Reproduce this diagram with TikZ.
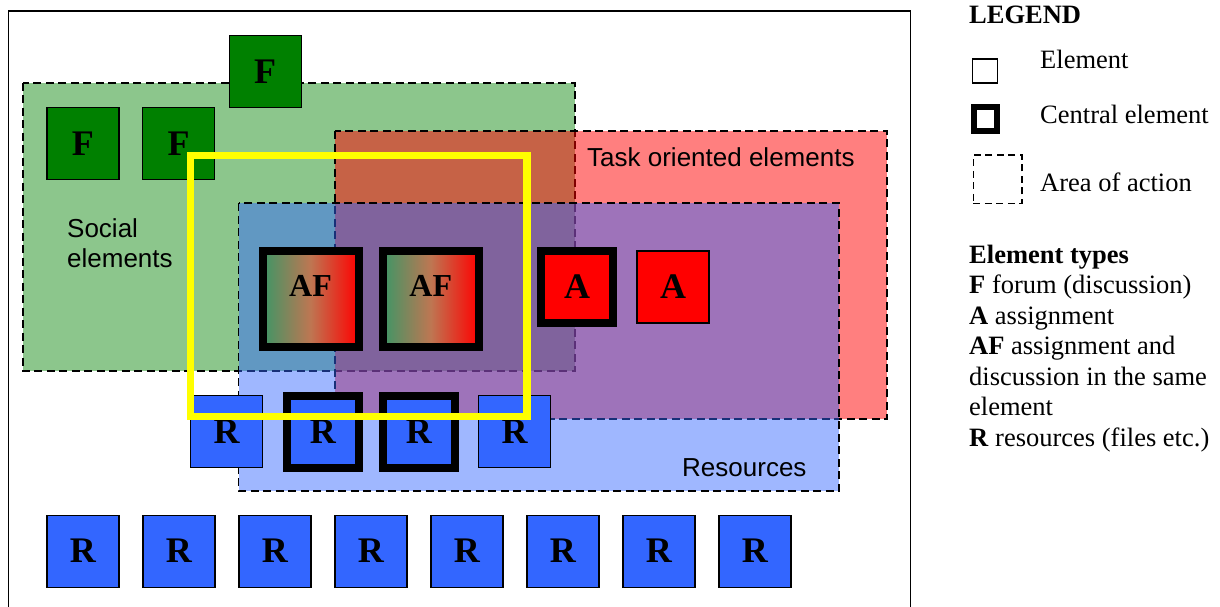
\documentclass[tikz,border=0pt]{standalone}
\usepackage{fontspec}
\setmainfont{Liberation Serif}
\newfontfamily\arialfont{Liberation Sans}
\usepackage{tikz}
\usetikzlibrary{positioning}
\definecolor{forumgreen}{RGB}{0,128,0}
\definecolor{taskred}{RGB}{255,0,0}
\definecolor{resblue}{RGB}{51,102,255}
\definecolor{mixgreen}{RGB}{62,150,102}
\definecolor{mixbrown}{RGB}{190,118,82}
\definecolor{frameyellow}{RGB}{255,255,0}
\tikzset{
  elem/.style={draw,line width=1.3pt,minimum size=72pt,inner sep=0pt,
    font=\fontsize{36}{36}\selectfont\bfseries},
  central/.style={line width=8pt},
  forum/.style={elem,fill=forumgreen},
  assign/.style={elem,fill=taskred},
  resource/.style={elem,fill=resblue},
  mixed/.style={elem,central,minimum size=96pt,left color=mixgreen,right color=taskred,
    middle color=mixbrown,text height=22pt,text depth=28pt,
    font=\fontsize{32}{32}\selectfont\bfseries},
  area/.style={draw=black,line width=1.8pt,dash pattern=on 8pt off 4.5pt},
  arealabel/.style={anchor=base west,inner sep=0pt,font=\arialfont\fontsize{26}{26}\selectfont},
  legtext/.style={anchor=base west,inner sep=0pt,font=\fontsize{26.5}{26.5}\selectfont},
}

\begin{document}
\begin{tikzpicture}[x=1pt,y=-1pt]
  \useasboundingbox (0,0) rectangle (1220,607);
  \draw[line width=1.5pt] (8.3,607) -- (8.3,11) -- (910.7,11) -- (910.7,607);
  % areas of action
  \filldraw[area,fill=forumgreen,fill opacity=0.45] (22.7,82.7) rectangle (575,371);
  \filldraw[area,fill=taskred,fill opacity=0.5] (334.8,131) rectangle (887.3,419);
  \filldraw[area,fill=resblue,fill opacity=0.47] (238.5,203.3) rectangle (839,491);
  \node[arealabel] (social1) at (67,237.5) {Social};
  \node[arealabel] (social2) at (67,267.5) {elements};
  \node[arealabel] (tasklbl) at (587,166) {Task oriented elements};
  \node[arealabel] (reslbl) at (682,476.7) {Resources};
  % elements
  \node[forum] (f0) at (265.2,71.3) {F};
  \node[forum] (f1) at (82.9,143.7) {F};
  \node[forum] (f2) at (178.7,143.7) {F};
  \node[mixed] (af1) at (310.5,299) {AF};
  \node[mixed] (af2) at (430.8,299) {AF};
  \node[assign,central] (a1) at (577,287) {A};
  \node[assign] (a2) at (673,287) {A};
  \node[resource] (r1) at (226.5,431.5) {R};
  \node[resource,central] (r2) at (322.8,431.5) {R};
  \node[resource,central] (r3) at (418.8,431.5) {R};
  \node[resource] (r4) at (514.5,431.5) {R};
  \foreach \i in {0,...,7} \node[resource] (rb\i) at (82.9+96*\i,551.2) {R};
  \draw[frameyellow,line width=7.5pt] (190.5,155.5) rectangle (527,416.7);
  % legend
  \node[legtext] (legtitle) at (969,23.3) {\textbf{LEGEND}};
  \node[draw,line width=1.5pt,minimum width=25pt,minimum height=24pt,inner sep=0pt] (legelem) at (984.8,71.2) {};
  \node[draw,line width=6pt,minimum width=23.3pt,minimum height=23.7pt,inner sep=0pt] (legcentral) at (985.4,119.2) {};
  \node[draw,line width=1.6pt,dash pattern=on 7pt off 4.5pt,minimum size=48.4pt,inner sep=0pt] (legarea) at (997.5,179.2) {};
  \node[legtext] (legelemtxt) at (1040,68.3) {Element};
  \node[legtext] (legcentraltxt) at (1040,123.3) {Central element};
  \node[legtext] (legareatxt) at (1040,191.7) {Area of action};
  \node[legtext] (types) at (969,263) {\textbf{Element types}};
  \node[legtext] (typef) at (969,293.5) {\textbf{F} forum (discussion)};
  \node[legtext] (typea) at (969,324) {\textbf{A} assignment};
  \node[legtext] (typeaf) at (969,354.5) {\textbf{AF} assignment and};
  \node[legtext] (typeaf2) at (969,385) {discussion in the same};
  \node[legtext] (typeaf3) at (969,415.5) {element};
  \node[legtext] (typer) at (969,446) {\textbf{R} resources (files etc.)};
\end{tikzpicture}
\end{document}
